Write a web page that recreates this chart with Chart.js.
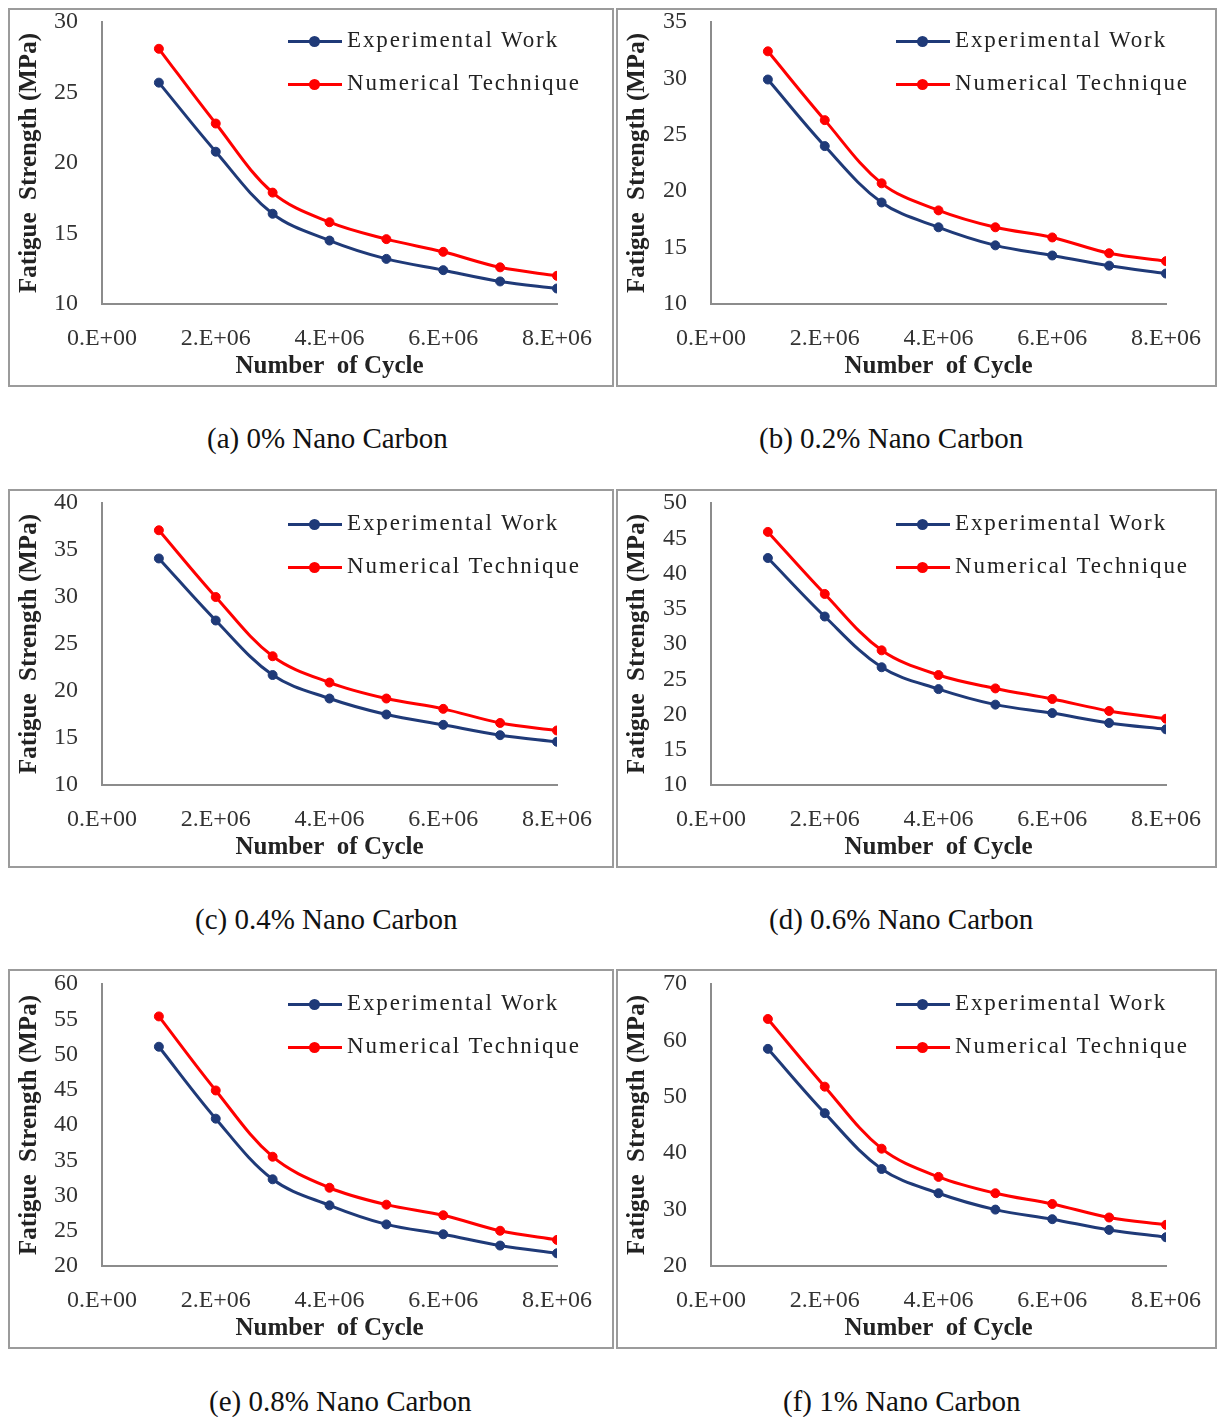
<!DOCTYPE html>
<html>
<head>
<meta charset="utf-8">
<script src="https://cdn.jsdelivr.net/npm/chart.js@4.4.1/dist/chart.umd.min.js"></script>
<style>
  html, body { margin: 0; padding: 0; background: #fff; }
  body { width: 1218px; height: 1417px; position: relative; overflow: hidden;
         font-family: "Liberation Serif", "Times New Roman", serif; }
  .panel { position: absolute; box-sizing: border-box; border: 2px solid #9b9b9b; }
  .panel canvas { position: absolute; left: -2px; top: -2px; }
  .legend { position: absolute; left: 278px; top: 20px; }
  .legend .item { position: relative; height: 43px; }
  .legend .line { position: absolute; left: 0; top: 10px; width: 54px; height: 3px; }
  .legend .dot { position: absolute; left: 21px; top: 6px; width: 11px; height: 11px; border-radius: 50%; }
  .legend .text { position: absolute; left: 59px; top: -3px; font-size: 23px; letter-spacing: 1.9px;
                  white-space: nowrap; color: #222; }
  .caption { position: absolute; font-size: 29px; color: #111; white-space: nowrap; line-height: 32px; }
</style>
</head>
<body>
<script>
// cycle counts shared by every specimen
const cycles = [1e6, 2e6, 3e6, 4e6, 5e6, 6e6, 7e6, 8e6];

// fatigue strength (MPa) per nano carbon content
const exp0 = [25.7, 20.8, 16.4, 14.5, 13.2, 12.4, 11.6, 11.1];
const num0 = [28.1, 22.8, 17.9, 15.8, 14.6, 13.7, 12.6, 12.0];

const exp02 = [29.9, 24.0, 19.0, 16.8, 15.2, 14.3, 13.4, 12.7];
const num02 = [32.4, 26.3, 20.7, 18.3, 16.8, 15.9, 14.5, 13.8];

const exp04 = [34.1, 27.5, 21.7, 19.2, 17.5, 16.4, 15.3, 14.6];
const num04 = [37.1, 30.0, 23.7, 20.9, 19.2, 18.1, 16.6, 15.8];

const exp06 = [42.2, 33.9, 26.7, 23.6, 21.4, 20.2, 18.8, 17.9];
const num06 = [45.9, 37.1, 29.1, 25.6, 23.7, 22.2, 20.5, 19.4];

const exp08 = [51.1, 40.9, 32.3, 28.6, 25.9, 24.5, 22.9, 21.8];
const num08 = [55.4, 44.9, 35.5, 31.1, 28.7, 27.2, 25.0, 23.7];

const exp1 = [58.5, 47.1, 37.2, 32.9, 30.0, 28.3, 26.4, 25.1];
const num1 = [63.8, 51.8, 40.8, 35.8, 32.9, 31.0, 28.6, 27.3];

const seriesNames = ["Experimental Work", "Numerical Technique"];
const yRanges = [[10, 30, 5], [10, 35, 5], [10, 40, 5], [10, 50, 5], [20, 60, 5], [20, 70, 10]];
const captions = ["(a) 0% Nano Carbon", "(b) 0.2% Nano Carbon", "(c) 0.4% Nano Carbon",
                  "(d) 0.6% Nano Carbon", "(e) 0.8% Nano Carbon", "(f) 1% Nano Carbon"];
const expSets = [exp0, exp02, exp04, exp06, exp08, exp1];
const numSets = [num0, num02, num04, num06, num08, num1];

const BLUE = "#1f3a78";
const RED = "#ff0000";
const AXIS = "#8c8c8c";
const FONT = "'Liberation Serif', 'Times New Roman', serif";

// panel boxes: left, top, width, height, chart-area left inside canvas, right padding
const boxes = [
  [8, 8, 606, 379, 94, 57],
  [616, 8, 601, 379, 95, 51],
  [8, 489, 606, 379, 94, 57],
  [616, 489, 601, 379, 95, 51],
  [8, 969, 606, 380, 94, 57],
  [616, 969, 601, 380, 95, 51]
];
// caption left edge and vertical centre
const captionPos = [[207, 438], [759, 438], [195, 919], [769, 919], [209, 1401], [783, 1401]];

function sciLabel(v) {
  if (v === 0) return "0.E+00";
  const e = Math.floor(Math.log10(v));
  const m = Math.round(v / Math.pow(10, e));
  return m + ".E+" + String(e).padStart(2, "0");
}

function makePanel(i) {
  const [left, top, w, h, yWidth, padRight] = boxes[i];
  const [yMin, yMax, yStep] = yRanges[i];

  const panel = document.createElement("div");
  panel.className = "panel";
  panel.style.left = left + "px";
  panel.style.top = top + "px";
  panel.style.width = w + "px";
  panel.style.height = h + "px";
  document.body.appendChild(panel);

  const canvas = document.createElement("canvas");
  canvas.width = w;
  canvas.height = h;
  canvas.style.width = w + "px";
  canvas.style.height = h + "px";
  panel.appendChild(canvas);

  const chartBottom = (i >= 4) ? 297 : 296;
  const chartTop = (i >= 4) ? 15 : 14;

  const sets = [expSets[i], numSets[i]];
  const colors = [BLUE, RED];

  const chart = new Chart(canvas, {
    type: "line",
    data: {
      datasets: sets.map((vals, k) => ({
        label: seriesNames[k],
        data: cycles.map((c, j) => ({ x: c, y: vals[j] })),
        borderColor: colors[k],
        backgroundColor: colors[k],
        pointBackgroundColor: colors[k],
        pointBorderColor: colors[k],
        borderWidth: 3,
        pointRadius: 4.5,
        pointBorderWidth: 1,
        tension: 0.35,
        fill: false
      }))
    },
    options: {
      responsive: false,
      animation: false,
      layout: { autoPadding: false, padding: { left: 0, top: chartTop, right: padRight, bottom: 0 } },
      plugins: { legend: { display: false }, tooltip: { enabled: false } },
      scales: {
        x: {
          type: "linear",
          min: 0,
          max: 8e6,
          ticks: {
            stepSize: 2e6,
            callback: sciLabel,
            color: "#333",
            padding: 20,
            maxRotation: 0,
            font: { family: FONT, size: 24 }
          },
          grid: { display: true, drawOnChartArea: false, drawTicks: false },
          border: { display: true, color: AXIS, width: 2 },
          title: {
            display: true,
            text: "Number  of Cycle",
            color: "#222",
            font: { family: FONT, size: 25, weight: "bold" },
            padding: { top: 0, bottom: 5 }
          },
          afterFit(scale) {
            scale.height = h - chartBottom;
            scale.paddingLeft = 0;
            scale.paddingRight = 0;
          }
        },
        y: {
          min: yMin,
          max: yMax,
          ticks: {
            stepSize: yStep,
            color: "#333",
            padding: 24,
            font: { family: FONT, size: 24 }
          },
          grid: { display: true, drawOnChartArea: false, drawTicks: false },
          border: { display: true, color: AXIS, width: 2 },
          title: {
            display: true,
            text: "Fatigue  Strength (MPa)",
            color: "#222",
            font: { family: FONT, size: 25, weight: "bold" },
            padding: { top: 7, bottom: 0 }
          },
          afterFit(scale) {
            scale.width = yWidth;
            scale.paddingTop = 0;
            scale.paddingBottom = 0;
          }
        }
      }
    }
  });

  // nudge the layout padding so the plot area lands on the intended frame
  const area = chart.chartArea;
  const pad = chart.options.layout.padding;
  const dTop = area.top - chartTop;
  const dRight = area.right - (w - padRight);
  if (dTop !== 0 || dRight !== 0) {
    pad.top = Math.max(0, pad.top - dTop);
    pad.right = Math.max(0, pad.right + dRight);
    chart.update();
  }

  // legend built from the chart's own datasets
  const legend = document.createElement("div");
  legend.className = "legend";
  legend.style.top = (i >= 2 ? 22 : 20) + "px";
  chart.data.datasets.forEach(ds => {
    const item = document.createElement("div");
    item.className = "item";
    item.innerHTML = '<div class="line" style="background:' + ds.borderColor + '"></div>' +
      '<div class="dot" style="background:' + ds.borderColor + '"></div>' +
      '<div class="text">' + ds.label + '</div>';
    legend.appendChild(item);
  });
  panel.appendChild(legend);

  const cap = document.createElement("div");
  cap.className = "caption";
  cap.textContent = captions[i];
  cap.style.left = captionPos[i][0] + "px";
  cap.style.top = (captionPos[i][1] - 16) + "px";
  document.body.appendChild(cap);
}

for (let i = 0; i < 6; i++) makePanel(i);
</script>
</body>
</html>
